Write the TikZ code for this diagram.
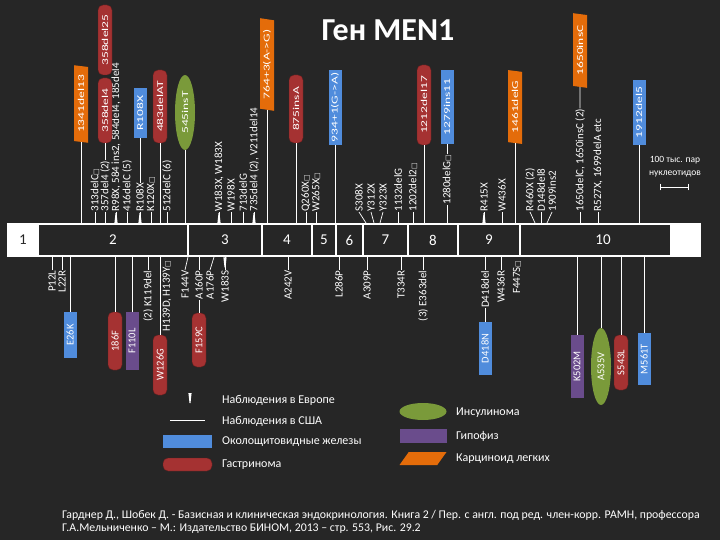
\documentclass[tikz,border=0pt]{standalone}
\usepackage{fontspec}
\setmainfont{Carlito}
\newfontfamily\wideface[FakeStretch=1.5]{Carlito}
\newfontfamily\symface{DejaVu Sans}
\usetikzlibrary{shapes.geometric}

\definecolor{bgdark}{RGB}{38,38,38}
\definecolor{gastred}{RGB}{165,50,50}
\definecolor{parablue}{RGB}{80,140,220}
\definecolor{pitpurple}{RGB}{106,76,140}
\definecolor{carcorange}{RGB}{228,108,10}
\definecolor{insgreen}{RGB}{122,154,58}

\newcommand{\boxch}{{\symface\fontsize{7}{7}\selectfont □}}

\tikzset{
  mut/.style={rotate=90, text=white, font=\fontsize{11}{12}\selectfont, inner sep=0.3pt},
  tie/.style={draw=white, line width=0.7pt},
  exon/.style={fill=bgdark, minimum height=30, inner sep=0, text=white, font=\fontsize{15}{15}\selectfont},
  vert/.style={rotate=90},
  gastrbox/.style={fill=gastred, draw=gastred!60!black, rounded corners=5pt, minimum height=14, inner sep=0, text=white, font=\wideface\fontsize{9}{9}\selectfont},
  parabox/.style={fill=parablue, minimum height=13, inner sep=0, text=white, font=\wideface\fontsize{9}{9}\selectfont},
  pitbox/.style={fill=pitpurple, minimum height=13, inner sep=0, text=white, font=\wideface\fontsize{9}{9}\selectfont},
  insbox/.style={ellipse, fill=insgreen, minimum height=20, inner sep=0, text=white, font=\wideface\fontsize{9}{9}\selectfont},
  carcbox/.style={trapezium, trapezium stretches=true, trapezium left angle=78, trapezium right angle=102, fill=carcorange, minimum height=14, inner sep=0, text=white, font=\wideface\fontsize{9}{9}\selectfont},
  lowtext/.style={font=\fontsize{10.5}{11}\selectfont},
  euromark/.pic={\fill[white] (-1.6,0) -- (1.6,0) -- (0.5,-10) -- (-0.5,-10) -- cycle;},
  legtext/.style={anchor=west, text=white, inner sep=0, font=\fontsize{12}{13}\selectfont},
  foot/.style={anchor=west, text=white, inner sep=0, font=\fontsize{11.8}{13}\selectfont}
}

\begin{document}
\begin{tikzpicture}[x=1pt, y=-1pt]
  \useasboundingbox (0,0) rectangle (720,540);
  \fill[bgdark] (0,0) rectangle (720,540);

  % Title
  \node[text=white, font=\bfseries\fontsize{32}{34}\selectfont] (title) at (388,30) {Ген MEN1};

  % Gene bar with exons
  \node[fill=white, minimum width=694, minimum height=34, inner sep=0, anchor=north west] (bar) at (7,223) {};
  \node[text=bgdark, font=\fontsize{15}{15}\selectfont] (ex1) at (23,240) {1};
  \node[exon, minimum width=148] (ex2) at (113,240) {2};
  \node[exon, minimum width=72] (ex3) at (225,240) {3};
  \node[exon, minimum width=48] (ex4) at (287,240) {4};
  \node[exon, minimum width=22] (ex5) at (324,240) {5};
  \node[exon, minimum width=25] (ex6) at (349.5,240) {6};
  \node[exon, minimum width=43] (ex7) at (385.5,240) {7};
  \node[exon, minimum width=48] (ex8) at (433,240) {8};
  \node[exon, minimum width=60] (ex9) at (489,240) {9};
  \node[exon, minimum width=149] (ex10) at (595.5,240) {\hspace*{15pt}10};

  % Mutations above the bar - exon 2
  \node[mut, anchor=west] (l313) at (95,212) {313delC\boxch};
  \node[mut, anchor=west] (l357) at (105,212) {357del4 (2)};
  \node[mut, anchor=west] (l98) at (116,212) {R98X, 584 ins2, 584del4, 185del4};
  \node[mut, anchor=west] (l416) at (127,212) {416delC (5)};
  \node[mut, anchor=west] (l108) at (140,212) {R108X};
  \node[mut, anchor=west] (l120) at (151,212) {K120X\boxch};
  \node[mut, anchor=west] (l512) at (167,212) {512delC (6)};
  \node[carcbox, vert, minimum width=78] (c1341) at (81,104) {1341del13};
  \node[gastrbox, vert, minimum width=70] (g358a) at (105,40) {358del25};
  \node[gastrbox, vert, minimum width=65] (g358b) at (105,110.5) {358del4};
  \node[parabox, vert, minimum width=50] (b108) at (140,113) {R108X};
  \node[gastrbox, vert, minimum width=73] (g483) at (160,106.5) {483delAT};
  \node[insbox, vert, minimum width=75] (i545) at (185,112.5) {545insT};

  \draw[tie] (l313.west |- bar.north) -- (l313.west);
  \draw[tie] (l357.west |- bar.north) -- (l357.west);
  \draw[tie] (l357.east) -- (g358b.west);
  \draw[tie] (l98.west |- bar.north) -- (l98.west);
  \draw[tie] (l416.west |- bar.north) -- (l416.west);
  \draw[tie] (l108.west |- bar.north) -- (l108.west);
  \draw[tie] (l108.east) -- (b108.west);
  \draw[tie] (l120.west |- bar.north) -- (l120.west);
  \draw[tie] (l512.west |- bar.north) -- (l512.west);
  \draw[tie] (c1341.west) -- (c1341.west |- bar.north);
  \draw[tie] (g483.west) -- (g483.west |- bar.north);
  \draw[tie] (i545.west) -- (i545.west |- bar.north);
  \pic (w98) at (l98.west |- bar.north) {euromark};
  \pic (w108) at (l108.west |- bar.north) {euromark};

  % Mutations above the bar - exons 3 to 8
  \node[mut, anchor=west] (l183) at (219,212) {W183X, W183X};
  \node[mut, anchor=west] (l198) at (231,212) {W198X};
  \node[mut, anchor=west] (l713) at (243,212) {713delG};
  \node[mut, anchor=west] (l735) at (254,212) {735del4 (2), V211del14};
  \node[mut, anchor=west] (l260) at (306,212) {Q260X\boxch};
  \node[mut, anchor=west] (l265) at (316,212) {W265X\boxch};
  \node[mut, anchor=west] (l308) at (359,212) {S308X};
  \node[mut, anchor=west] (l312) at (371,212) {Y312X};
  \node[mut, anchor=west] (l323) at (383,212) {Y323X};
  \node[mut, anchor=west] (l1132) at (398,212) {1132delG};
  \node[mut, anchor=west] (l1202) at (413,212) {1202del2\boxch};
  \node[mut, anchor=west] (l1280) at (447,205) {1280delG\boxch};
  \node[carcbox, vert, minimum width=93] (c764) at (267,64.5) {764+3(A->G)};
  \node[gastrbox, vert, minimum width=68] (g875) at (296,109) {875insA};
  \node[parabox, vert, minimum width=75] (b934) at (335,107.5) {934+1(G->A)};
  \node[gastrbox, vert, minimum width=80] (g1212) at (424,105) {1212del17};
  \node[parabox, vert, minimum width=74] (b1279) at (447,107) {1279ins11};
  \coordinate (s308) at (366,223);
  \coordinate (s312) at (374,223);
  \coordinate (s323) at (380,223);

  \draw[tie] (l183.west |- bar.north) -- (l183.west);
  \draw[tie] (l198.west |- bar.north) -- (l198.west);
  \draw[tie] (l713.west |- bar.north) -- (l713.west);
  \draw[tie] (l735.west |- bar.north) -- (l735.west);
  \draw[tie] (l260.west |- bar.north) -- (l260.west);
  \draw[tie] (l265.west |- bar.north) -- (l265.west);
  \draw[tie] (l308.west) -- (s308);
  \draw[tie] (l312.west) -- (s312);
  \draw[tie] (l323.west) -- (s323);
  \draw[tie] (l1132.west |- bar.north) -- (l1132.west);
  \draw[tie] (l1202.west |- bar.north) -- (l1202.west);
  \draw[tie] (l1280.west |- bar.north) -- (l1280.west);
  \draw[tie] (l1280.east) -- (b1279.west);
  \draw[tie] (c764.west) -- (c764.west |- bar.north);
  \draw[tie] (g875.west) -- (g875.west |- bar.north);
  \draw[tie] (b934.west) -- (b934.west |- bar.north);
  \draw[tie] (g1212.west) -- (g1212.west |- bar.north);
  \pic (w183) at (l183.west |- bar.north) {euromark};
  \pic (w735) at (l735.west |- bar.north) {euromark};

  % Mutations above the bar - exons 9 and 10
  \node[mut, anchor=west] (l415) at (484,212) {R415X};
  \node[mut, anchor=west] (l436) at (502,212) {W436X};
  \node[mut, anchor=west] (l460) at (530,212) {R460X (2)};
  \node[mut, anchor=west] (l148) at (541,212) {D148del8};
  \node[mut, anchor=west] (l1909) at (552,212) {1909ins2};
  \node[mut, anchor=west] (l1650) at (580,212) {1650delC, 1650insC (2)};
  \node[mut, anchor=west] (l527) at (598,212) {R527X, 1699delA etc};
  \node[carcbox, vert, minimum width=74] (c1461) at (515,107) {1461delG};
  \node[carcbox, vert, minimum width=75] (c1650) at (580,50.5) {1650insC};
  \node[parabox, vert, minimum width=65] (b1912) at (639,112.5) {1912del5};
  \coordinate (s460) at (535,223);
  \coordinate (s1909) at (547,223);

  \draw[tie] (l415.west |- bar.north) -- (l415.west);
  \draw[tie] (l436.west |- bar.north) -- (l436.west);
  \draw[tie] (l460.west) -- (s460);
  \draw[tie] (l148.west |- bar.north) -- (l148.west);
  \draw[tie] (l1909.west) -- (s1909);
  \draw[tie] (l1650.west |- bar.north) -- (l1650.west);
  \draw[tie] (l1650.east) -- (c1650.west);
  \draw[tie] (l527.west |- bar.north) -- (l527.west);
  \draw[tie] (c1461.west) -- (c1461.west |- bar.north);
  \draw[tie] (b1912.west) -- (b1912.west |- bar.north);
  \pic (w415) at (l415.west |- bar.north) {euromark};

  % Scale
  \node[text=white, align=center, inner sep=0, font=\fontsize{9.5}{13}\selectfont] (scl) at (675,167) {100 тыс. пар\\нуклеотидов};
  \coordinate (sca) at (660,187);
  \coordinate (scb) at (689,187);
  \draw[tie, |-|] (sca) -- (scb);

  % Mutations below the bar
  \node[mut, anchor=east] (l12) at (52,270) {P12L};
  \node[mut, anchor=east] (l22) at (62,270) {L22R};
  \node[mut, anchor=east] (l119) at (148,270) {(2) K119del};
  \node[mut, anchor=east] (l139) at (167,260) {H139D, H139Y\boxch};
  \node[mut, anchor=east] (l144) at (185,270) {F144V};
  \node[mut, anchor=east] (l160) at (199,270) {A160P};
  \node[mut, anchor=east] (l176) at (210,270) {A176P};
  \node[mut, anchor=east] (l183s) at (225,270) {W183S};
  \node[mut, anchor=east] (l242) at (288,270) {A242V};
  \node[mut, anchor=east] (l286) at (339,270) {L286P};
  \node[mut, anchor=east] (l309) at (367,270) {A309P};
  \node[mut, anchor=east] (l334) at (401,270) {T334R};
  \node[mut, anchor=east] (l363) at (423,270) {(3) E363del};
  \node[mut, anchor=east] (l418) at (485,270) {D418del};
  \node[mut, anchor=east] (l436r) at (501,270) {W436R};
  \node[mut, anchor=east] (l447) at (517,260) {F447S\boxch};
  \node[parabox, lowtext, vert, minimum width=46] (b26) at (70,335) {E26K};
  \node[gastrbox, lowtext, vert, minimum width=58] (g86) at (115,341) {186F};
  \node[pitbox, lowtext, vert, minimum width=58] (p110) at (132,341) {F110L};
  \node[gastrbox, lowtext, vert, minimum width=60] (g126) at (160,365) {W126G};
  \node[gastrbox, lowtext, vert, minimum width=54] (g159) at (199,340) {F159C};
  \node[parabox, lowtext, vert, minimum width=53] (b418) at (485,348.5) {D418N};
  \node[pitbox, lowtext, vert, minimum width=63] (p502) at (577,366.5) {K502M};
  \node[insbox, lowtext, vert, minimum width=77] (i535) at (601,366.5) {A535V};
  \node[gastrbox, lowtext, vert, minimum width=55] (g543) at (621,362.5) {S543L};
  \node[parabox, lowtext, vert, minimum width=52] (b561) at (644,359) {M561T};
  \coordinate (s144) at (188,257);
  \coordinate (s176) at (214,257);

  \draw[tie] (l12.east |- bar.south) -- (l12.east);
  \draw[tie] (l22.east |- bar.south) -- (l22.east);
  \draw[tie] (l119.east |- bar.south) -- (l119.east);
  \draw[tie] (s144) -- (l144.east);
  \draw[tie] (l160.east |- bar.south) -- (l160.east);
  \draw[tie] (l160.west) -- (g159.east);
  \draw[tie] (s176) -- (l176.east);
  \draw[tie] (l183s.east |- bar.south) -- (l183s.east);
  \draw[tie] (l242.east |- bar.south) -- (l242.east);
  \draw[tie] (l286.east |- bar.south) -- (l286.east);
  \draw[tie] (l309.east |- bar.south) -- (l309.east);
  \draw[tie] (l334.east |- bar.south) -- (l334.east);
  \draw[tie] (l363.east |- bar.south) -- (l363.east);
  \draw[tie] (l418.east |- bar.south) -- (l418.east);
  \draw[tie] (l418.west) -- (b418.east);
  \draw[tie] (l436r.east |- bar.south) -- (l436r.east);
  \draw[tie] (b26.east |- bar.south) -- (b26.east);
  \draw[tie] (g86.east |- bar.south) -- (g86.east);
  \draw[tie] (p110.east |- bar.south) -- (p110.east);
  \draw[tie] (g126.east |- bar.south) -- (g126.east);
  \draw[tie] (p502.east |- bar.south) -- (p502.east);
  \draw[tie] (i535.east |- bar.south) -- (i535.east);
  \draw[tie] (g543.east |- bar.south) -- (g543.east);
  \draw[tie] (b561.east |- bar.south) -- (b561.east);
  \pic[rotate=180] (w183s) at (l183s.east |- bar.south) {euromark};

  % Legend
  \pic[rotate=180] (lgeu) at (190,393) {euromark};
  \node[legtext] (lgeutx) at (222,400) {Наблюдения в Европе};
  \coordinate (lgusa) at (170,420);
  \coordinate (lgusb) at (205,420);
  \draw[tie] (lgusa) -- (lgusb);
  \node[legtext] (lgustx) at (222,421) {Наблюдения в США};
  \node[parabox, minimum width=49, minimum height=13] (lgpara) at (187.5,441.5) {};
  \node[legtext] (lgparatx) at (222,442) {Околощитовидные железы};
  \node[gastrbox, minimum width=49, minimum height=13] (lggast) at (187.5,464.5) {};
  \node[legtext] (lggasttx) at (222,465) {Гастринома};
  \node[insbox, minimum width=47, minimum height=17] (lgins) at (423,411.5) {};
  \node[legtext] (lginstx) at (456,413) {Инсулинома};
  \node[pitbox, minimum width=47, minimum height=14] (lgpit) at (423,436) {};
  \node[legtext] (lgpittx) at (456,436) {Гипофиз};
  \node[carcbox, inner sep=2pt, minimum width=47, minimum height=13, trapezium left angle=72, trapezium right angle=108] (lgcarc) at (423,458.5) {};
  \node[legtext] (lgcarctx) at (456,459) {Карциноид легких};

  % Reference
  \node[foot] (ref1) at (62,515) {Гарднер Д., Шобек Д. - Базисная и клиническая эндокринология. Книга 2 / Пер. с англ. под ред. член-корр. РАМН, профессора};
  \node[foot] (ref2) at (62,529) {Г.А.Мельниченко – М.: Издательство БИНОМ, 2013 – стр. 553, Рис. 29.2};
\end{tikzpicture}
\end{document}
